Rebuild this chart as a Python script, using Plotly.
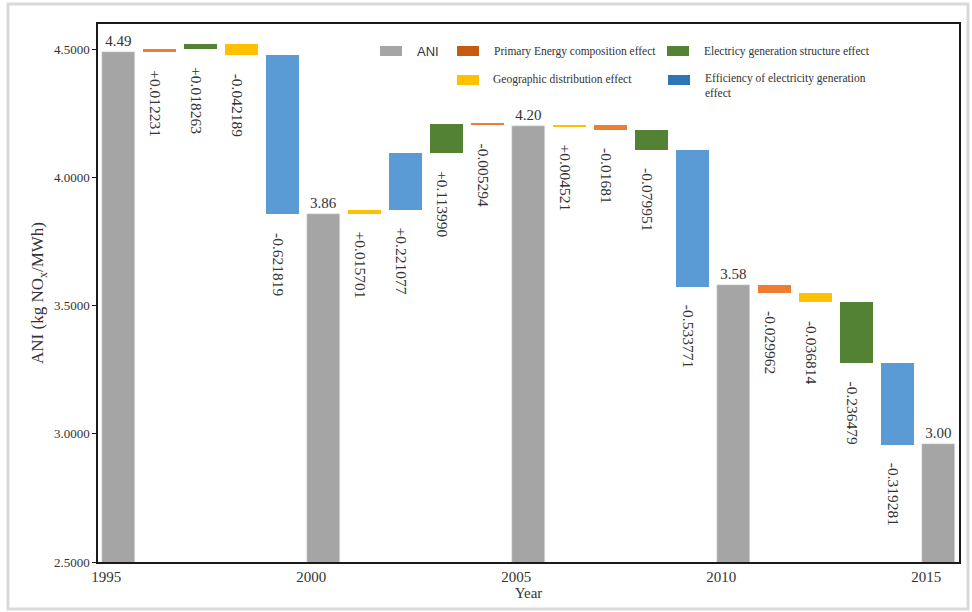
import plotly.graph_objects as go

# ---------------- data ----------------
years = ["1995", "2000", "2005", "2010", "2015"]
ani_values = [4.49, 3.86, 4.20, 3.58, 2.96]
ani_labels = ["4.49", "3.86", "4.20", "3.58", "3.00"]

effect_keys = ["primary", "geographic", "structure", "efficiency"]
effect_names = {
    "primary": "Primary Energy composition effect",
    "geographic": "Geographic distribution effect",
    "structure": "Electricy generation structure effect",
    "efficiency": "Efficiency of electricity generation<br>effect",
}
# one value per period: 1995-2000, 2000-2005, 2005-2010, 2010-2015
primary_values = [0.012231, -0.005294, -0.01681, -0.029962]
geographic_values = [-0.042189, 0.015701, 0.004521, -0.036814]
structure_values = [0.018263, 0.113990, -0.079951, -0.236479]
efficiency_values = [-0.621819, 0.221077, -0.533771, -0.319281]

primary_labels = ["+0.012231", "-0.005294", "-0.01681", "-0.029962"]
geographic_labels = ["-0.042189", "+0.015701", "+0.004521", "-0.036814"]
structure_labels = ["+0.018263", "+0.113990", "-0.079951", "-0.236479"]
efficiency_labels = ["-0.621819", "+0.221077", "-0.533771", "-0.319281"]

# order in which the effects are drawn inside each period
period_order = [
    ["primary", "structure", "geographic", "efficiency"],
    ["geographic", "efficiency", "structure", "primary"],
    ["geographic", "primary", "structure", "efficiency"],
    ["primary", "geographic", "structure", "efficiency"],
]

values_by_key = {"primary": primary_values, "geographic": geographic_values,
                 "structure": structure_values, "efficiency": efficiency_values}
labels_by_key = {"primary": primary_labels, "geographic": geographic_labels,
                 "structure": structure_labels, "efficiency": efficiency_labels}

# ---------------- styles ----------------
bar_colors = {"primary": "#ED7D31", "geographic": "#FFC000",
              "structure": "#548235", "efficiency": "#5B9BD5"}
legend_colors = {"primary": "#C55A11", "geographic": "#FFC000",
                 "structure": "#548235", "efficiency": "#2E75B6"}
ani_color = "#A5A5A5"
text_color = "#333333"
serif = "Liberation Serif"
sans = "Liberation Sans"

# ---------------- build ----------------
fig = go.Figure()

ani_x = [5 * i for i in range(len(years))]
fig.add_trace(go.Bar(
    x=ani_x, y=ani_values, width=0.8, marker_color=ani_color,
    text=ani_labels, textposition="outside", constraintext="none",
    textfont=dict(family=serif, size=15, color=text_color),
    cliponaxis=False, showlegend=False, name="ANI"))

effect_x = {k: [] for k in effect_keys}
effect_base = {k: [] for k in effect_keys}
effect_y = {k: [] for k in effect_keys}
label_annots = []
for p, order in enumerate(period_order):
    level = ani_values[p]
    for j, key in enumerate(order):
        v = values_by_key[key][p]
        xpos = 5 * p + 1 + j
        effect_x[key].append(xpos)
        effect_base[key].append(level)
        effect_y[key].append(v)
        bottom = min(level, level + v)
        label_annots.append(dict(
            x=xpos, y=bottom, xref="x", yref="y", text=labels_by_key[key][p],
            textangle=90, showarrow=False, xanchor="center", yanchor="top",
            yshift=-16, xshift=-4,
            font=dict(family=serif, size=15.5, color=text_color)))
        level += v

for key in effect_keys:
    fig.add_trace(go.Bar(
        x=effect_x[key], y=effect_y[key], base=effect_base[key], width=0.8,
        marker_color=bar_colors[key], marker_line_width=0,
        showlegend=False, name=effect_names[key]))

# ---------------- manual legend ----------------
L, R, T, B = 98, 959, 24, 562


def fx(px):
    return (px - L) / (R - L)


def fy(py):
    return (B - py) / (B - T)


shapes = []
legend_items = [
    (ani_color, 380, 46, "ANI", 415, 52, sans, 13),
    (legend_colors["primary"], 457, 46, effect_names["primary"], 492, 51, serif, 11.5),
    (legend_colors["structure"], 667, 46, effect_names["structure"], 702, 51, serif, 11.5),
    (legend_colors["geographic"], 457, 75, effect_names["geographic"], 491, 79, serif, 11.5),
]
legend_annots = []
for col, sx, sy, txt, tx, ty, fam, fs in legend_items:
    shapes.append(dict(type="rect", xref="paper", yref="paper",
                       x0=fx(sx), x1=fx(sx + 22), y0=fy(sy + 10), y1=fy(sy),
                       fillcolor=col, line_width=0, layer="above"))
    legend_annots.append(dict(xref="paper", yref="paper", x=fx(tx), y=fy(ty),
                              text=txt, showarrow=False, xanchor="left",
                              yanchor="middle",
                              font=dict(family=fam, size=fs, color=text_color)))
# efficiency (two-line)
shapes.append(dict(type="rect", xref="paper", yref="paper",
                   x0=fx(668), x1=fx(690), y0=fy(85), y1=fy(75),
                   fillcolor=legend_colors["efficiency"], line_width=0, layer="above"))
legend_annots.append(dict(xref="paper", yref="paper", x=fx(703), y=fy(70),
                          text=effect_names["efficiency"], showarrow=False,
                          xanchor="left", yanchor="top", align="left",
                          font=dict(family=serif, size=11.5, color=text_color)))

# outer light-gray frame
shapes.append(dict(type="rect", xref="paper", yref="paper",
                   x0=fx(8), x1=fx(968), y0=fy(609), y1=fy(4),
                   line=dict(color="#D9D9D9", width=3), fillcolor="rgba(0,0,0,0)",
                   layer="below"))

fig.update_layout(
    width=972, height=612,
    margin=dict(l=L, r=972 - R, t=T, b=612 - B),
    plot_bgcolor="white", paper_bgcolor="white",
    barmode="overlay", bargap=0,
    shapes=shapes,
    annotations=label_annots + legend_annots,
    font=dict(family=serif, color=text_color),
)
fig.update_xaxes(
    range=[-0.5, 20.5], tickmode="array",
    tickvals=[x - 0.3 for x in ani_x], ticktext=years,
    ticks="", showgrid=False, zeroline=False,
    showline=True, mirror=True, linecolor="#1A1A1A", linewidth=1.5,
    tickfont=dict(family=serif, size=15, color=text_color),
    title=dict(text="Year", font=dict(family=serif, size=15, color=text_color), standoff=4),
)
fig.update_yaxes(
    range=[2.5, 4.6], tickmode="array", tickvals=[2.5, 3.0, 3.5, 4.0, 4.5],
    tickformat=".4f", ticks="outside", ticklen=4, tickcolor="#1A1A1A",
    showgrid=False, zeroline=False,
    showline=True, mirror=True, linecolor="#1A1A1A", linewidth=1.5,
    tickfont=dict(family=serif, size=13, color=text_color),
    title=dict(text="ANI (kg NO<sub>x</sub>/MWh)",
               font=dict(family=serif, size=17, color=text_color), standoff=6),
)

fig.write_html("out.html")
